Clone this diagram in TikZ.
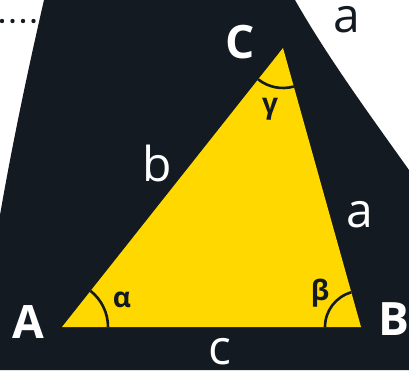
\documentclass[tikz,border=0pt]{standalone}
\usepackage{fontspec}
\setmainfont{Open Sans}
\usetikzlibrary{angles}
\definecolor{night}{HTML}{131A22}
\definecolor{sun}{HTML}{FFD800}
\tikzset{
  vtx/.style   ={text=white, font=\fontsize{46}{46}\selectfont\bfseries,
                 inner sep=0pt},
  side/.style  ={text=white, font=\fontsize{48}{48}\selectfont,
                 inner sep=0pt},
  ang/.style   ={text=night, font=\fontsize{28}{28}\selectfont\bfseries,
                 inner sep=0pt},
  arcmark/.style={draw=night, line width=2.6pt},
}

\begin{document}
\begin{tikzpicture}[x=1pt, y=1pt]
\useasboundingbox (0,0) rectangle (409,370);

% dark backdrop
\fill[night] (44,370) .. controls (32,318) and (14,236) .. (0,155)
  -- (0,0) -- (409,0) -- (409,200)
  .. controls (372,252) and (328,312) .. (295,370) -- cycle;
\foreach \x in {2,12.5,23,33.5}
  \fill[night] (\x,349) circle (2.2pt);

% triangle
\coordinate (A) at (62,43);
\coordinate (B) at (361,43);
\coordinate (C) at (283,322);
\fill[sun] (A) -- (B) -- (C) -- cycle;

\pic[arcmark, angle radius=46pt] {angle = B--A--C};
\pic[arcmark, angle radius=36pt] {angle = C--B--A};
\pic[arcmark, angle radius=40pt] {angle = A--C--B};

% vertex labels
\node[vtx] (lA) at (28,48) {A};
\node[vtx] (lB) at (394,51) {B};
\node[vtx] (lC) at (240,328) {C};

% side labels
\node[side] (sb) at (157,207) {b};
\node[side] (sa) at (360,155) {a};
\node[side] (sc) at (220,18) {c};
\node[side, text=night] (sa2) at (347,350) {a};

% angle labels
\node[ang] (al) at (122,70) {α};
\node[ang] (be) at (320,77) {β};
\node[ang] (ga) at (270,261) {γ};

\end{tikzpicture}
\end{document}
